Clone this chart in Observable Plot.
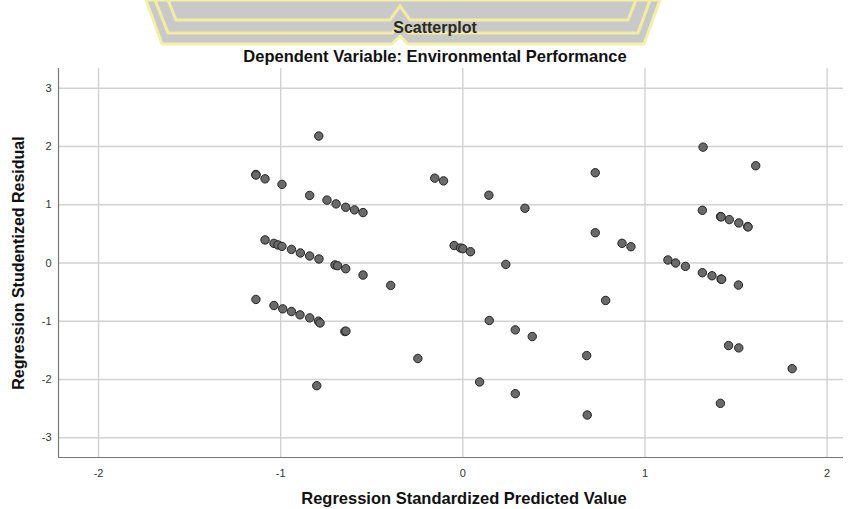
<!DOCTYPE html>
<html>
<head>
<meta charset="utf-8">
<script src="https://cdn.jsdelivr.net/npm/d3@7"></script>
<script src="https://cdn.jsdelivr.net/npm/@observablehq/plot@0.6"></script>
<style>
  body { margin: 0; background: #fff; font-family: "Liberation Sans", Arial, sans-serif; }
  #wrap { position: relative; width: 856px; height: 509px; overflow: hidden; background: #fff; }
  #head { position: relative; width: 856px; height: 60px; }
  #wm { position: absolute; left: 0; top: 0; }
  .title { position: absolute; white-space: nowrap; font-weight: bold; transform: translateX(-50%); line-height: 1; }
  #t1 { left: 435px; top: 20px; font-size: 16px; color: #2b2a1c; }
  #t2 { left: 435px; top: 48px; font-size: 16.5px; color: #111; }
  #chart svg { display: block; }
</style>
</head>
<body>
<div id="wrap">
  <div id="head">
    <svg id="wm" width="856" height="60">
      <polygon points="146,0 162,44 392,44 400,36 408,44 644,44 660,0" fill="#c9c9c9" stroke="#f4f0a6" stroke-width="3"/>
      <polyline points="155,0 168,33 392,33 400,25 408,33 638,33 650,0" fill="none" stroke="#f2ee9e" stroke-width="3"/>
      <polyline points="168,0 176,20 390,20 400,6 410,20 628,20 636,0" fill="none" stroke="#f2ee9e" stroke-width="3"/>
    </svg>
    <div class="title" id="t1">Scatterplot</div>
    <div class="title" id="t2">Dependent Variable: Environmental Performance</div>
  </div>
  <div id="chart"></div>
</div>
<script>
const predicted = [
  -0.791, -1.136, -1.136, -1.086, -0.993, -0.841, -0.746, -0.696, -0.643, -0.595, -0.548,
  -1.086, -1.037, -1.015, -0.993, -0.941, -0.892, -0.841, -0.790, -0.702, -0.688, -0.643, -0.548, -0.396,
  -1.136, -1.037, -0.989, -0.941, -0.894, -0.841, -0.793, -0.784, -0.648, -0.642, -0.247, -0.802,
  -0.154, -0.106, 0.143, 0.341, 0.727, 0.727, 0.874, 0.923,
  -0.048, -0.013, 0.000, 0.042, 0.236, 0.784, 0.145, 0.288, 0.381, 0.680, 0.092, 0.288, 0.683,
  1.319, 1.608, 1.315, 1.415, 1.418, 1.463, 1.515, 1.564, 1.566,
  1.126, 1.168, 1.222, 1.315, 1.368, 1.418, 1.421, 1.513,
  1.459, 1.515, 1.808, 1.414
];
const residual = [
  2.18, 1.52, 1.51, 1.445, 1.35, 1.16, 1.08, 1.015, 0.957, 0.912, 0.866,
  0.396, 0.337, 0.31, 0.286, 0.234, 0.172, 0.12, 0.069, -0.034, -0.046, -0.098, -0.207, -0.385,
  -0.626, -0.73, -0.787, -0.833, -0.89, -0.942, -0.998, -1.03, -1.177, -1.17, -1.64, -2.107,
  1.457, 1.41, 1.164, 0.94, 1.55, 0.52, 0.338, 0.28,
  0.30, 0.258, 0.246, 0.194, -0.024, -0.643, -0.987, -1.148, -1.263, -1.59, -2.043, -2.244, -2.61,
  1.99, 1.67, 0.905, 0.797, 0.792, 0.745, 0.688, 0.625, 0.62,
  0.052, 0.0, -0.058, -0.167, -0.219, -0.276, -0.28, -0.379,
  -1.418, -1.458, -1.814, -2.41
];
const xTicks = [-2, -1, 0, 1, 2];
const yTicks = [3, 2, 1, 0, -1, -2, -3];
const xLabel = "Regression Standardized Predicted Value";
const yLabel = "Regression Studentized Residual";
const xDomain = [-2.22, 2.09];
const yDomain = [-3.34, 3.34];

const points = predicted.map((p, i) => ({x: p, y: residual[i]}));

const chart = Plot.plot({
  width: 856,
  height: 449,
  marginLeft: 58,
  marginRight: 13,
  marginTop: 8,
  marginBottom: 52,
  style: {fontFamily: '"Liberation Sans", Arial, sans-serif', background: "#fff"},
  x: {domain: xDomain},
  y: {domain: yDomain},
  marks: [
    Plot.gridX(xTicks, {stroke: "#d2d2d2", strokeOpacity: 1, strokeWidth: 1.4}),
    Plot.gridY(yTicks, {stroke: "#d2d2d2", strokeOpacity: 1, strokeWidth: 1.4}),
    Plot.ruleX([xDomain[0]], {stroke: "#777", strokeWidth: 1.2}),
    Plot.ruleY([yDomain[0]], {stroke: "#777", strokeWidth: 1.2}),
    Plot.axisX(xTicks, {tickSize: 0, tickPadding: 12, fontSize: 11, fill: "#333", label: null, tickFormat: d => String(d)}),
    Plot.axisY(yTicks, {tickSize: 0, tickPadding: 7, fontSize: 11, fill: "#333", label: null, tickFormat: d => String(d)}),
    Plot.dot(points, {x: "x", y: "y", r: 4.2, fill: "#6a6a6a", stroke: "#222", strokeWidth: 1, fillOpacity: 1}),
    Plot.text([xLabel], {frameAnchor: "bottom", dx: 13, dy: 41, fontWeight: "bold", fontSize: 16.5, fill: "#111", lineAnchor: "middle"}),
    Plot.text([yLabel], {frameAnchor: "left", dx: -40, rotate: -90, textAnchor: "middle", fontWeight: "bold", fontSize: 16, fill: "#111"})
  ]
});
document.getElementById("chart").appendChild(chart);
</script>
</body>
</html>
